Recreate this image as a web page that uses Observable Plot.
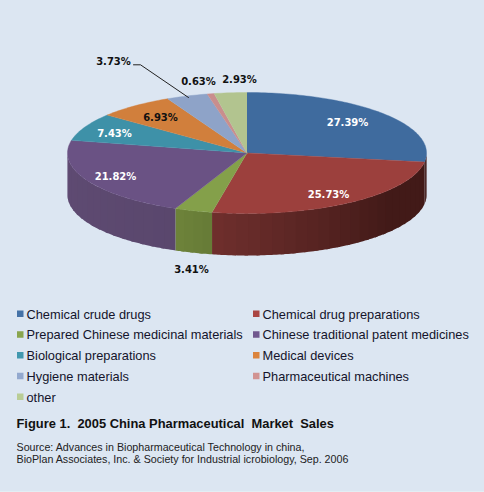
<!DOCTYPE html>
<html>
<head>
<meta charset="utf-8">
<script src="https://cdn.jsdelivr.net/npm/d3@7"></script>
<script src="https://cdn.jsdelivr.net/npm/@observablehq/plot@0.6"></script>
<style>
html,body{margin:0;padding:0;background:#dce6f2;}
svg{display:block;}
</style>
</head>
<body>
<div id="chart"></div>
<script>
// Data
const categories = ["Chemical crude drugs","Chemical drug preparations","Prepared Chinese medicinal materials","Chinese traditional patent medicines","Biological preparations","Medical devices","Hygiene materials","Pharmaceutical machines","other"];
const shares = [27.39,25.73,3.41,21.82,7.43,6.93,3.73,0.63,2.93];
const labels = ["27.39%","25.73%","3.41%","21.82%","7.43%","6.93%","3.73%","0.63%","2.93%"];
const titleText = "Figure 1.\u00A0\u00A02005 China Pharmaceutical\u00A0\u00A0Market\u00A0\u00A0Sales";
const sourceLines = ["Source: Advances in Biopharmaceutical Technology in china,","BioPlan Associates, Inc. & Society for Industrial icrobiology, Sep. 2006"];

// Styles and layout
const legendColors = ["#4572a7","#aa4643","#89a54e","#71588f","#4198af","#db843d","#93a9cf","#d19392","#b9cd96"];
const topColors = ["#3f6b9e","#9c403d","#84a04a","#6a5284","#3e91a8","#d17f3c","#8ea3c8","#c98e8d","#b2c48f"];
const wallLight = ["#421a18","#6f2f2d","#6e833b","#5f4b73","#3e91a8","#d17f3c","#8ea3c8","#c98e8d","#b2c48f"];
const wallDark = ["#421a18","#421a18","#667a36","#5a476d","#3e91a8","#d17f3c","#8ea3c8","#c98e8d","#b2c48f"];
const labelFill = ["#fff","#fff","#111","#fff","#fff","#111","#111","#111","#111"];
const labelPos = [[347,122],[328,194],[191,269],[115,176],[114,133],[160,117],[113,61],[198,81],[239,79]];
const W = 484, H = 492;
const cx = 246.5, cy = 152.5, rx = 179.5, ry = 60.5, depth = 42;

const angles = d3.pie().sort(null).value(d => d)(shares);
const px = a => cx + rx * Math.sin(a), py = a => cy - ry * Math.cos(a);

// Top faces, sampled along each slice's arc
const topPts = [];
angles.forEach((s, i) => {
  topPts.push({i, x: cx, y: cy});
  const n = Math.max(2, Math.ceil((s.endAngle - s.startAngle) / 0.02));
  for (let k = 0; k <= n; k++) {
    const a = s.startAngle + (s.endAngle - s.startAngle) * k / n;
    topPts.push({i, x: px(a), y: py(a)});
  }
});

// Side wall strips on the visible front half
const wallPts = [];
let wid = 0;
angles.forEach((s, i) => {
  const a0 = Math.max(s.startAngle, Math.PI / 2), a1 = Math.min(s.endAngle, 1.5 * Math.PI);
  if (a1 <= a0) return;
  const n = Math.ceil((a1 - a0) / 0.07);
  const mix = d3.interpolateRgb(wallLight[i], wallDark[i]);
  for (let k = 0; k < n; k++) {
    const b0 = a0 + (a1 - a0) * k / n;
    const b1 = Math.min(a0 + (a1 - a0) * (k + 1) / n + 0.02, a1);
    const t = Math.min(1, (a1 - (b0 + b1) / 2) / (a1 - a0) * (i === 1 ? 1.5 : 1));
    const color = mix(t);
    const id = wid++;
    const arc = d3.range(0, 7).map(j => b0 + (b1 - b0) * j / 6);
    arc.forEach(a => wallPts.push({id, color, x: px(a), y: py(a)}));
    arc.reverse().forEach(a => wallPts.push({id, color, x: px(a), y: py(a) + depth}));
  }
});

const legend = categories.map((name, i) => ({
  name, color: legendColors[i],
  col: i % 2, row: Math.floor(i / 2)
}));
const swX = [17, 253], txX = [26, 262];
const rowY = r => 314 + r * 20.75;

const labelData = labels.map((t, i) => ({t, x: labelPos[i][0], y: labelPos[i][1], fill: labelFill[i]}));
const leader = [{x:133,y:64.3},{x:140,y:64.3},{x:188,y:97}];

const plot = Plot.plot({
  width: W, height: H,
  margin: 0,
  style: {background: "transparent"},
  x: {domain: [0, W], range: [0, W], axis: null},
  y: {domain: [0, H], range: [0, H], axis: null},
  color: {type: "identity"},
  marks: [
    Plot.line(wallPts, {x: "x", y: "y", z: "id", fill: "color"}),
    Plot.line(topPts, {x: "x", y: "y", z: "i", fill: d => topColors[d.i], stroke: d => topColors[d.i], strokeWidth: 0.4}),
    Plot.line(leader, {x: "x", y: "y", stroke: "#222", strokeWidth: 1}),
    Plot.text(labelData, {x: "x", y: "y", text: "t", fill: "fill", fontFamily: "DejaVu Sans", fontWeight: "bold", fontSize: 10}),
    Plot.rect(legend, {
      x1: d => swX[d.col], x2: d => swX[d.col] + 6.5,
      y1: d => rowY(d.row) - 3.5, y2: d => rowY(d.row) + 3,
      fill: "color"
    }),
    Plot.text(legend, {
      x: d => txX[d.col], y: d => rowY(d.row), text: "name", textAnchor: "start",
      fontFamily: "Liberation Sans", fontSize: 12.8, fill: "#14142b"
    }),
    Plot.text([titleText], {
      x: () => 16, y: () => 423.5, text: d => d, textAnchor: "start",
      fontFamily: "Liberation Sans", fontWeight: "bold", fontSize: 12.9, fill: "#111"
    }),
    Plot.text(sourceLines, {
      x: () => 16, y: (d, i) => 447 + i * 12, text: d => d, textAnchor: "start",
      fontFamily: "Liberation Sans", fontSize: 10.7, fill: "#222"
    }),
    Plot.ruleY([491.5], {stroke: "#eaf6f6", strokeWidth: 1})
  ]
});
document.getElementById("chart").append(plot);
</script>
</body>
</html>
